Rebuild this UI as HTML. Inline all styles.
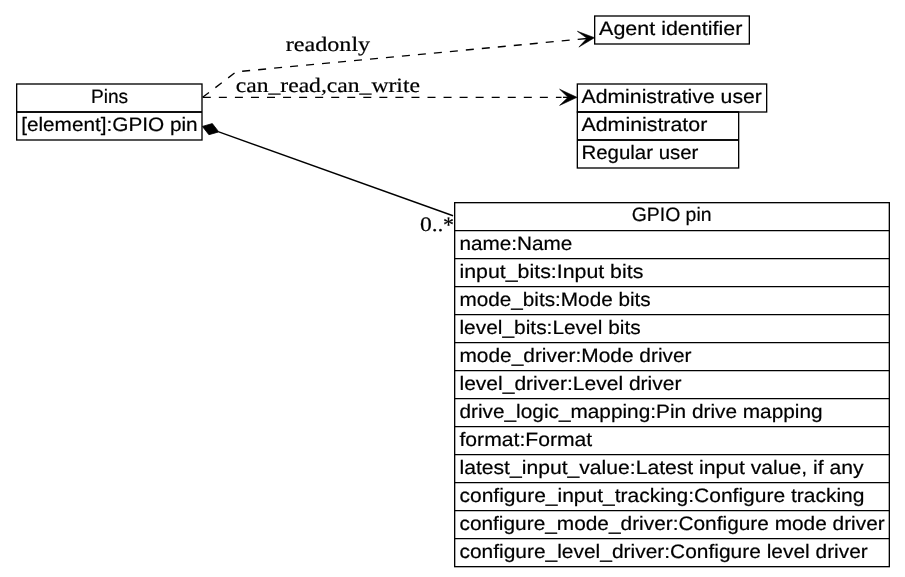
<!DOCTYPE html>
<html><head><meta charset="utf-8"><style>
html,body{margin:0;padding:0;background:#fff;width:905px;height:577px;overflow:hidden;}
svg{display:block;will-change:transform;}
text{text-rendering:geometricPrecision;stroke:#000;stroke-width:0.2px;}
</style></head><body>
<svg width="905" height="577" viewBox="0 0 905 577">
<rect x="0" y="0" width="905" height="577" fill="#fff"/>
<rect x="16.67" y="84" width="185.33" height="56.00" fill="none" stroke="#000" stroke-width="1.33"/>
<line x1="16.67" y1="112" x2="202.0" y2="112" stroke="#000" stroke-width="1.33"/><line x1="16.67" y1="112" x2="202.0" y2="112" stroke="#000" stroke-width="1.33"/>
<text x="109.5" y="102.8" font-family="&quot;Liberation Sans&quot;, sans-serif" font-size="19.4" text-anchor="middle" textLength="37.14" lengthAdjust="spacingAndGlyphs">Pins</text>
<text x="21.17" y="130.8" font-family="&quot;Liberation Sans&quot;, sans-serif" font-size="19.4" text-anchor="start" textLength="176.43" lengthAdjust="spacingAndGlyphs">[element]:GPIO pin</text>
<rect x="594.67" y="16" width="154.66" height="28.00" fill="none" stroke="#000" stroke-width="1.33"/>
<text x="599.07" y="34.8" font-family="&quot;Liberation Sans&quot;, sans-serif" font-size="19.4" text-anchor="start" textLength="143.24" lengthAdjust="spacingAndGlyphs">Agent identifier</text>
<rect x="577.33" y="84" width="189.34" height="28.00" fill="none" stroke="#000" stroke-width="1.33"/>
<text x="581.5300000000001" y="102.8" font-family="&quot;Liberation Sans&quot;, sans-serif" font-size="19.4" text-anchor="start" textLength="180.36" lengthAdjust="spacingAndGlyphs">Administrative user</text>
<rect x="577.33" y="112" width="161.34" height="56.00" fill="none" stroke="#000" stroke-width="1.33"/>
<line x1="577.33" y1="112" x2="738.67" y2="112" stroke="#000" stroke-width="1.33"/>
<line x1="577.33" y1="140" x2="738.67" y2="140" stroke="#000" stroke-width="1.33"/><line x1="577.33" y1="140" x2="738.67" y2="140" stroke="#000" stroke-width="1.33"/>
<text x="581.5300000000001" y="130.8" font-family="&quot;Liberation Sans&quot;, sans-serif" font-size="19.4" text-anchor="start" textLength="125.74" lengthAdjust="spacingAndGlyphs">Administrator</text>
<text x="581.5300000000001" y="158.8" font-family="&quot;Liberation Sans&quot;, sans-serif" font-size="19.4" text-anchor="start" textLength="116.84" lengthAdjust="spacingAndGlyphs">Regular user</text>
<rect x="454.67" y="202.67" width="434.66" height="364.00" fill="none" stroke="#000" stroke-width="1.33"/>
<text x="671.6" y="221.36999999999998" font-family="&quot;Liberation Sans&quot;, sans-serif" font-size="19.4" text-anchor="middle" textLength="79.76" lengthAdjust="spacingAndGlyphs">GPIO pin</text>
<line x1="454.67" y1="230.67" x2="889.33" y2="230.67" stroke="#000" stroke-width="1.33"/>
<text x="459.47" y="249.67" font-family="&quot;Liberation Sans&quot;, sans-serif" font-size="19.4" text-anchor="start" textLength="112.94" lengthAdjust="spacingAndGlyphs">name:Name</text>
<line x1="454.67" y1="258.67" x2="889.33" y2="258.67" stroke="#000" stroke-width="1.33"/>
<text x="459.47" y="277.67" font-family="&quot;Liberation Sans&quot;, sans-serif" font-size="19.4" text-anchor="start" textLength="183.86" lengthAdjust="spacingAndGlyphs">input_bits:Input bits</text>
<line x1="454.67" y1="286.67" x2="889.33" y2="286.67" stroke="#000" stroke-width="1.33"/>
<text x="459.47" y="305.67" font-family="&quot;Liberation Sans&quot;, sans-serif" font-size="19.4" text-anchor="start" textLength="191.22" lengthAdjust="spacingAndGlyphs">mode_bits:Mode bits</text>
<line x1="454.67" y1="314.67" x2="889.33" y2="314.67" stroke="#000" stroke-width="1.33"/>
<text x="459.47" y="333.67" font-family="&quot;Liberation Sans&quot;, sans-serif" font-size="19.4" text-anchor="start" textLength="181.20" lengthAdjust="spacingAndGlyphs">level_bits:Level bits</text>
<line x1="454.67" y1="342.67" x2="889.33" y2="342.67" stroke="#000" stroke-width="1.33"/>
<text x="459.47" y="361.67" font-family="&quot;Liberation Sans&quot;, sans-serif" font-size="19.4" text-anchor="start" textLength="232.06" lengthAdjust="spacingAndGlyphs">mode_driver:Mode driver</text>
<line x1="454.67" y1="370.67" x2="889.33" y2="370.67" stroke="#000" stroke-width="1.33"/>
<text x="459.47" y="389.67" font-family="&quot;Liberation Sans&quot;, sans-serif" font-size="19.4" text-anchor="start" textLength="222.05" lengthAdjust="spacingAndGlyphs">level_driver:Level driver</text>
<line x1="454.67" y1="398.67" x2="889.33" y2="398.67" stroke="#000" stroke-width="1.33"/>
<text x="459.47" y="417.67" font-family="&quot;Liberation Sans&quot;, sans-serif" font-size="19.4" text-anchor="start" textLength="363.08" lengthAdjust="spacingAndGlyphs">drive_logic_mapping:Pin drive mapping</text>
<line x1="454.67" y1="426.67" x2="889.33" y2="426.67" stroke="#000" stroke-width="1.33"/>
<text x="459.47" y="445.67" font-family="&quot;Liberation Sans&quot;, sans-serif" font-size="19.4" text-anchor="start" textLength="132.75" lengthAdjust="spacingAndGlyphs">format:Format</text>
<line x1="454.67" y1="454.67" x2="889.33" y2="454.67" stroke="#000" stroke-width="1.33"/>
<text x="459.47" y="473.67" font-family="&quot;Liberation Sans&quot;, sans-serif" font-size="19.4" text-anchor="start" textLength="404.02" lengthAdjust="spacingAndGlyphs">latest_input_value:Latest input value, if any</text>
<line x1="454.67" y1="482.67" x2="889.33" y2="482.67" stroke="#000" stroke-width="1.33"/>
<text x="459.47" y="501.67" font-family="&quot;Liberation Sans&quot;, sans-serif" font-size="19.4" text-anchor="start" textLength="404.95" lengthAdjust="spacingAndGlyphs">configure_input_tracking:Configure tracking</text>
<line x1="454.67" y1="510.67" x2="889.33" y2="510.67" stroke="#000" stroke-width="1.33"/>
<text x="459.47" y="529.6700000000001" font-family="&quot;Liberation Sans&quot;, sans-serif" font-size="19.4" text-anchor="start" textLength="425.25" lengthAdjust="spacingAndGlyphs">configure_mode_driver:Configure mode driver</text>
<line x1="454.67" y1="538.67" x2="889.33" y2="538.67" stroke="#000" stroke-width="1.33"/>
<text x="459.47" y="557.67" font-family="&quot;Liberation Sans&quot;, sans-serif" font-size="19.4" text-anchor="start" textLength="408.37" lengthAdjust="spacingAndGlyphs">configure_level_driver:Configure level driver</text>
<path d="M202.6,97.3 L236.2,71.8 L578,39.4" fill="none" stroke="#000" stroke-width="1.33" stroke-dasharray="8,8.05"/>
<path d="M578,39.4 L587,38.5" fill="none" stroke="#000" stroke-width="1.33"/>
<path d="M594.5,37.7 L577.4,31.3 L587,38.3 L578.9,47.1 Z" fill="#000" stroke="#000" stroke-width="0.6" stroke-linejoin="miter"/>
<text x="285.7" y="51.0" font-family="&quot;Liberation Serif&quot;, serif" font-size="20.5" text-anchor="start" textLength="84.50" lengthAdjust="spacingAndGlyphs">readonly</text>
<path d="M202.8,97.35 L561.5,97.35" fill="none" stroke="#000" stroke-width="1.33" stroke-dasharray="8,8.05"/>
<path d="M563,97.35 L568,97.35" fill="none" stroke="#000" stroke-width="1.33"/>
<path d="M577,97.35 L559.6,89.2 L568,97.35 L559.6,105.4 Z" fill="#000" stroke="#000" stroke-width="0.6"/>
<text x="235.7" y="91.9" font-family="&quot;Liberation Serif&quot;, serif" font-size="20.5" text-anchor="start" textLength="184.30" lengthAdjust="spacingAndGlyphs">can_read,can_write</text>
<path d="M202.4,126.4 L212.3,123.6 L218.8,131.9 L208.9,134.7 Z" fill="#000" stroke="#000" stroke-width="0.8"/>
<path d="M218.8,131.9 L453.05,215.75" fill="none" stroke="#000" stroke-width="1.33"/>
<text x="419.9" y="230.6" font-family="&quot;Liberation Serif&quot;, serif" font-size="20.5" text-anchor="start" textLength="23.60" lengthAdjust="spacingAndGlyphs">0..</text>
<text x="443.0" y="232.1" font-family="&quot;Liberation Serif&quot;, serif" font-size="22">*</text>
</svg>
</body></html>
